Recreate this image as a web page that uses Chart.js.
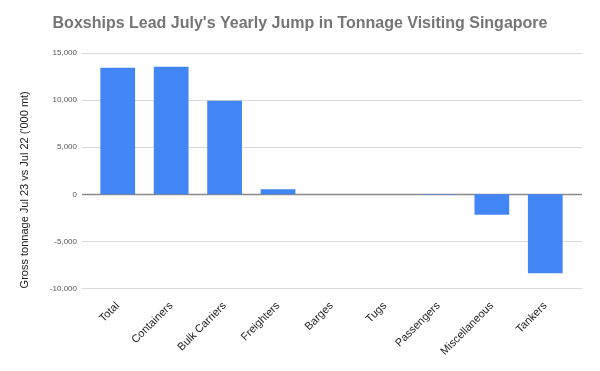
<!DOCTYPE html>
<html>
<head>
<meta charset="utf-8">
<script src="https://cdn.jsdelivr.net/npm/chart.js@4"></script>
<style>
  html, body { margin: 0; padding: 0; background: #fff; }
  #wrap { width: 600px; height: 371px; }
</style>
</head>
<body>
<div id="wrap"><canvas id="tonnageChart"></canvas></div>
<script>
const categories = ['Total', 'Containers', 'Bulk Carriers', 'Freighters', 'Barges', 'Tugs', 'Passengers', 'Miscellaneous', 'Tankers'];
const tonnageChange = [13450, 13550, 9950, 550, 10, 5, -40, -2180, -8400];
const yTicks = [-10000, -5000, 0, 5000, 10000, 15000];

// gridlines run a little past the outer bars, like the original
const wideGrid = {
  id: 'wideGrid',
  beforeDatasetsDraw(chart) {
    const { ctx, chartArea, scales } = chart;
    ctx.save();
    yTicks.forEach(v => {
      const y = Math.round(scales.y.getPixelForValue(v)) + 0.5;
      ctx.strokeStyle = v === 0 ? '#8a8a8a' : '#d9d9d9';
      ctx.lineWidth = v === 0 ? 1.5 : 1;
      ctx.beginPath();
      ctx.moveTo(chartArea.left - 9, y);
      ctx.lineTo(chartArea.right + 10, y);
      ctx.stroke();
    });
    ctx.restore();
  }
};

const tonnageChart = new Chart(document.getElementById('tonnageChart'), {
  type: 'bar',
  data: {
    labels: categories,
    datasets: [{
      label: 'Gross tonnage',
      data: tonnageChange,
      backgroundColor: '#4285F4',
      borderWidth: 0,
      categoryPercentage: 1,
      barPercentage: 0.65
    }]
  },
  options: {
    responsive: true,
    maintainAspectRatio: false,
    animation: false,
    layout: { padding: { left: 0, right: 0, top: 4, bottom: 10 } },
    scales: {
      x: {
        grid: { display: false },
        border: { display: false },
        // keep the plot at fixed left/right edges (title stays centred on the page)
        afterFit: (axis) => { axis.paddingLeft = 0; axis.paddingRight = 28; },
        ticks: {
          minRotation: 45,
          maxRotation: 45,
          color: '#222',
          font: { family: 'Liberation Sans, Arial, sans-serif', size: 11 }
        }
      },
      y: {
        min: -10000,
        max: 15000,
        afterBuildTicks: (axis) => { axis.ticks = yTicks.map(v => ({ value: v })); },
        afterFit: (axis) => { axis.width = 91; },
        border: { display: false },
        grid: { display: false, drawTicks: false },
        ticks: {
          padding: 14,
          color: '#555',
          font: { family: 'Liberation Sans, Arial, sans-serif', size: 8 },
          callback: (v) => v.toLocaleString('en-US')
        },
        title: {
          display: true,
          align: 'start',
          text: "Gross tonnage Jul 23 vs Jul 22 ('000 mt)",
          color: '#222',
          font: { family: 'Liberation Sans, Arial, sans-serif', size: 11 },
          padding: { top: 18, bottom: 0 }
        }
      }
    },
    plugins: {
      legend: { display: false },
      tooltip: { enabled: false },
      title: {
        display: true,
        text: "Boxships Lead July's Yearly Jump in Tonnage Visiting Singapore",
        color: '#757575',
        font: { family: 'Liberation Sans, Arial, sans-serif', size: 16, weight: 'bold' },
        padding: { top: 10, bottom: 20 }
      }
    }
  },
  plugins: [wideGrid]
});
</script>
</body>
</html>
